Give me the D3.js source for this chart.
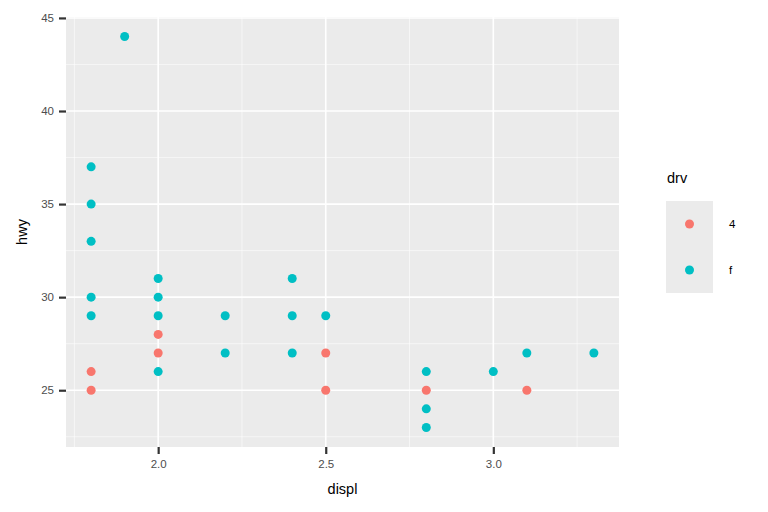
<!DOCTYPE html>
<html><head><meta charset="utf-8">
<script src="https://cdn.jsdelivr.net/npm/d3@7"></script>
<style>body{margin:0;background:#fff}</style>
</head><body>
<script>
const drvLevels = ["4", "f"];
const drvColors = ["#F8766D", "#00BFC4"];
const displ4 = [1.8, 1.8, 2.0, 2.0, 2.5, 2.5, 2.8, 3.1];
const hwy4   = [26, 25, 28, 27, 27, 25, 25, 25];
const displF = [1.8, 1.8, 1.8, 1.8, 1.8, 1.9, 2.0, 2.0, 2.0, 2.0, 2.2, 2.2, 2.4, 2.4, 2.4, 2.5, 2.8, 2.8, 2.8, 3.0, 3.1, 3.3];
const hwyF   = [37, 35, 33, 30, 29, 44, 31, 30, 29, 26, 29, 27, 31, 29, 27, 29, 26, 24, 23, 26, 27, 27];
const xTicks = [2.0, 2.5, 3.0];
const yTicks = [25, 30, 35, 40, 45];
const xMinor = [1.75, 2.25, 2.75, 3.25];
const yMinor = [22.5, 27.5, 32.5, 37.5, 42.5];

const W = 768, H = 512;
const P = {l: 66, r: 619, t: 17, b: 447};
const svg = d3.select("body").append("svg").attr("width", W).attr("height", H)
  .style("font-family", "Liberation Sans, Arial, sans-serif");

const x = d3.scaleLinear().domain([1.725, 3.375]).range([P.l, P.r]);
const y = d3.scaleLinear().domain([21.95, 45.05]).range([P.b, P.t]);

svg.append("rect").attr("x", P.l).attr("y", P.t).attr("width", P.r - P.l).attr("height", P.b - P.t).attr("fill", "#EBEBEB");

const g = svg.append("g");
g.selectAll(".xmin").data(xMinor).join("line").attr("x1", d => x(d)).attr("x2", d => x(d))
  .attr("y1", P.t).attr("y2", P.b).attr("stroke", "#fff").attr("stroke-width", 0.55);
g.selectAll(".ymin").data(yMinor).join("line").attr("y1", d => y(d)).attr("y2", d => y(d))
  .attr("x1", P.l).attr("x2", P.r).attr("stroke", "#fff").attr("stroke-width", 0.55);
g.selectAll(".xmaj").data(xTicks).join("line").attr("x1", d => x(d)).attr("x2", d => x(d))
  .attr("y1", P.t).attr("y2", P.b).attr("stroke", "#fff").attr("stroke-width", 1.6);
g.selectAll(".ymaj").data(yTicks).join("line").attr("y1", d => y(d)).attr("y2", d => y(d))
  .attr("x1", P.l).attr("x2", P.r).attr("stroke", "#fff").attr("stroke-width", 1.6);

// axes
const xAxis = svg.append("g").attr("transform", `translate(0,${P.b})`)
  .call(d3.axisBottom(x).tickValues(xTicks).tickFormat(d3.format(".1f")).tickSize(7).tickPadding(6));
const yAxis = svg.append("g").attr("transform", `translate(${P.l},0)`)
  .call(d3.axisLeft(y).tickValues(yTicks).tickSize(7).tickPadding(5));
[xAxis, yAxis].forEach(a => {
  a.select(".domain").remove();
  a.selectAll(".tick line").attr("stroke", "#333").attr("stroke-width", 2.2);
  a.selectAll(".tick text").attr("fill", "#4D4D4D").style("font-size", "11.5px").style("font-family", "Liberation Sans, Arial, sans-serif");
});

svg.append("text").attr("x", (P.l + P.r) / 2).attr("y", 494).attr("text-anchor", "middle")
  .style("font-size", "14.5px").attr("fill", "#000").text("displ");
svg.append("text").attr("transform", `translate(27,${(P.t + P.b) / 2}) rotate(-90)`).attr("text-anchor", "middle")
  .style("font-size", "14.5px").attr("fill", "#000").text("hwy");

// points
const pts4 = displ4.map((d, i) => ({x: d, y: hwy4[i], c: drvColors[0]}));
const ptsF = displF.map((d, i) => ({x: d, y: hwyF[i], c: drvColors[1]}));
svg.append("g").selectAll("circle").data(pts4.concat(ptsF)).join("circle")
  .attr("cx", d => x(d.x)).attr("cy", d => y(d.y)).attr("r", 4.5).attr("fill", d => d.c);

// legend
const lg = svg.append("g");
lg.append("text").attr("x", 667).attr("y", 183).style("font-size", "14.5px").attr("fill", "#000").text("drv");
lg.append("rect").attr("x", 666).attr("y", 201).attr("width", 47).attr("height", 92).attr("fill", "#EBEBEB");
drvLevels.forEach((lv, i) => {
  const cy = 224 + i * 46;
  lg.append("circle").attr("cx", 689.5).attr("cy", cy).attr("r", 4.5).attr("fill", drvColors[i]);
  lg.append("text").attr("x", 729).attr("y", cy + 4).style("font-size", "11.5px").attr("fill", "#000").text(lv);
});
</script>
</body></html>
